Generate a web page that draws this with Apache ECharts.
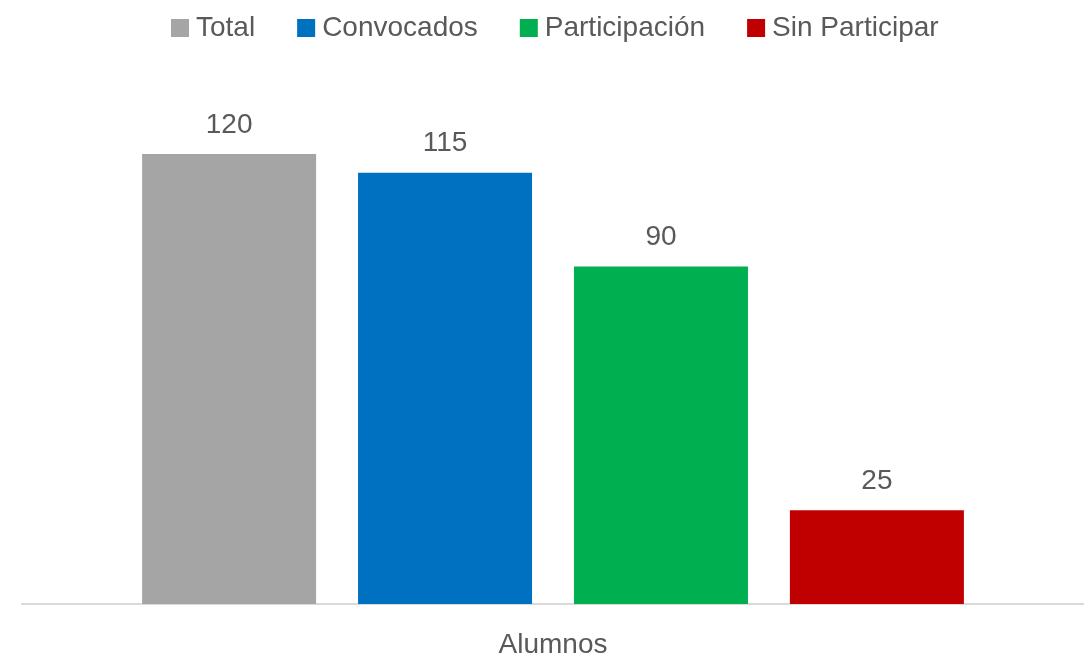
<!DOCTYPE html>
<html>
<head>
<meta charset="utf-8">
<script src="https://cdn.jsdelivr.net/npm/echarts@6/dist/echarts.min.js"></script>
<style>
  html, body { margin: 0; padding: 0; background: #fff; }
  #main { width: 1084px; height: 659px; }
</style>
</head>
<body>
<div id="main"></div>
<script>
var categories = ['Alumnos'];
var seriesNames = ['Total', 'Convocados', 'Participación', 'Sin Participar'];
var seriesColors = ['#A5A5A5', '#0070C0', '#00B050', '#C00000'];
var totalValues = [120];
var convocadosValues = [115];
var participacionValues = [90];
var sinParticiparValues = [25];

var allValues = [totalValues, convocadosValues, participacionValues, sinParticiparValues];
var fontName = 'Liberation Sans';
var textColor = '#595959';

var series = [];
for (var i = 0; i < seriesNames.length; i++) {
    series.push({
        name: seriesNames[i],
        type: 'bar',
        data: allValues[i],
        barWidth: 174,
        barGap: '24.1%',
        itemStyle: { color: seriesColors[i] },
        label: {
            show: true,
            position: 'top',
            distance: 15,
            color: textColor,
            fontFamily: fontName,
            fontSize: 28
        }
    });
}

var myChart = echarts.init(document.getElementById('main'));
var option = {
    animation: false,
    legend: {
        data: seriesNames,
        top: 9,
        left: 166,
        icon: 'rect',
        itemWidth: 18,
        itemHeight: 18,
        itemGap: 42,
        textStyle: { color: textColor, fontFamily: fontName, fontSize: 28, padding: [0, 0, 0, 2] }
    },
    grid: { left: 22, right: 0, top: 79, bottom: 55 },
    xAxis: {
        type: 'category',
        data: categories,
        axisLine: { show: true, lineStyle: { color: '#D9D9D9', width: 2 } },
        axisTick: { show: false },
        axisLabel: { color: textColor, fontFamily: fontName, fontSize: 28, margin: 27 }
    },
    yAxis: {
        type: 'value',
        min: 0,
        max: 140,
        show: false,
        splitLine: { show: false }
    },
    series: series
};
myChart.setOption(option);
</script>
</body>
</html>
